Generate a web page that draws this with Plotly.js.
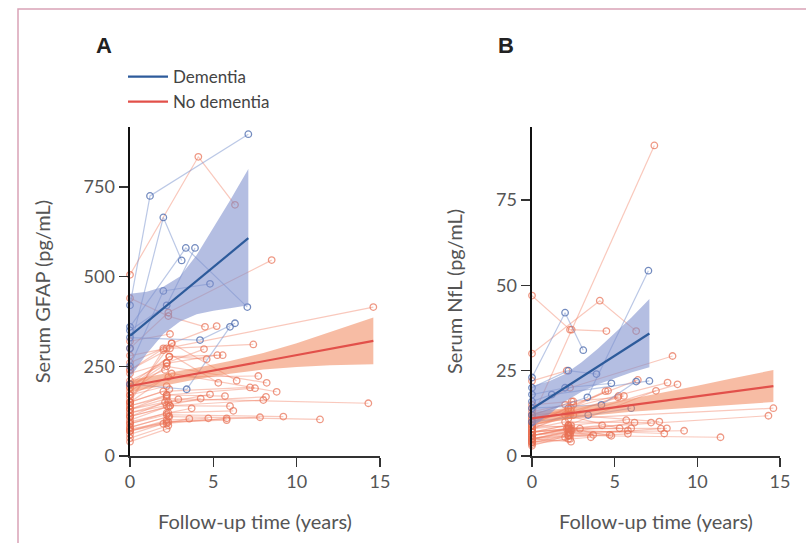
<!DOCTYPE html>
<html>
<head>
<meta charset="utf-8">
<script src="https://cdn.plot.ly/plotly-3.0.1.min.js"></script>
<style>html,body{margin:0;padding:0;background:#fff;}#chart{width:806px;height:543px;}</style>
</head>
<body>
<div id="chart"></div>
<script>
// ---------- Individual trajectories: no dementia ----------
const tRed = [
  [0, 4.1, 6.3], [0, 2.4, 7.4], [0, 2.3, 4.5], [0, 2.2, 14.6], [0, 2.2, 14.3],
  [0, 2.3, 11.4], [0, 2.2, 9.2], [0, 2.5, 8.8], [0, 2.3, 8.5], [0, 2.2, 8.2],
  [0, 2.1, 8.16], [0, 2.4, 8.0], [0, 2.2, 7.8], [0, 2.3, 7.7], [0, 2.2, 7.5],
  [0, 2.0, 7.2], [0, 2.5, 6.4], [0, 2.2, 6.2], [0, 2.4, 6.0], [0, 2.0, 5.8],
  [0, 2.3, 5.8], [0, 2.2, 5.7], [0, 2.36, 5.56], [0, 2.2, 5.24], [0, 2.0, 5.3],
  [0, 2.5, 5.2], [0, 2.3, 4.8], [0, 2.2, 4.7], [0, 2.36, 4.6], [0, 2.2, 4.44],
  [0, 2.2, 4.24], [0, 2.3, 3.7], [0, 2.2, 3.56], [0, 2.9], [0, 2.36],
  [0, 2.3], [0, 2.36], [0, 2.2], [0, 2.2], [0, 2.0],
  [0, 2.3], [0, 2.2], [0, 2.4], [0, 2.2], [0, 2.1]
];
const gfapRed = [
  [505, 834, 700], [240, 300, 311], [440, 390, 360], [280, 300, 415], [130, 160, 147],
  [80, 110, 102], [90, 115, 110], [150, 230, 179], [300, 400, 546], [180, 250, 204],
  [110, 150, 165], [100, 140, 156], [70, 95, 108], [170, 220, 223], [140, 170, 189],
  [150, 180, 191], [160, 314, 210], [90, 120, 126], [110, 140, 139], [60, 90, 105],
  [75, 95, 100], [130, 170, 167], [200, 277, 281], [190, 258, 281], [150, 295, 204],
  [240, 314, 362], [120, 150, 172], [70, 100, 105], [190, 277, 270], [210, 260, 298],
  [120, 140, 160], [95, 120, 133], [70, 90, 104], [130, 158], [150, 186],
  [110, 137], [80, 110], [170, 195], [230, 260], [260, 300],
  [50, 85], [40, 75], [320, 340], [140, 165], [200, 240]
];
const nflRed = [
  [30, 45.5, 36.6], [11, 37, 91], [47, 37, 36.6], [9, 11, 14.0], [7, 8, 11.8],
  [5, 6, 5.5], [6, 7, 7.4], [9, 12, 21.0], [14, 20, 29.3], [10, 14, 21.5],
  [6, 8, 8.1], [5, 7.5, 6.6], [4.5, 6, 8.0], [8, 12, 10.1], [7, 9, 19.1],
  [8, 10, 9.8], [9, 15, 22.3], [5, 7, 9.8], [6, 8, 8.1], [4, 5.5, 6.5],
  [5, 6.5, 7.5], [7, 9, 10.5], [10, 13, 17.6], [9, 12, 17.6], [8, 12, 8.1],
  [12, 16, 17.2], [6, 8, 5.9], [4, 6, 6.2], [10, 14, 19.1], [11, 14, 19.0],
  [6, 8, 9.0], [5, 7, 6.2], [4, 5, 5.5], [7, 8], [8, 9],
  [6, 7.6], [5, 4.2], [9, 8.5], [12, 13], [13, 15],
  [3.5, 5], [3, 6], [15, 16], [7, 8], [22, 25]
];
// ---------- Individual trajectories: dementia ----------
const tDem = [
  [0, 1.2, 7.1], [0, 2.0, 3.1], [0, 3.35, 7.04], [0, 2.0, 4.8],
  [0, 4.2, 6.3], [0, 3.4, 6.0], [0, 2.2, 3.9]
];
const gfapDem = [
  [420, 725, 897], [300, 665, 545], [360, 580, 415], [250, 460, 480],
  [330, 323, 370], [200, 186, 360], [350, 420, 580]
];
const nflDem = [
  [16, 18, 22], [23, 42, 31], [12, 17.2, 54.3], [18, 20, 21.3],
  [14, 15, 21.8], [10, 12, 14], [20, 25, 24]
];
// ---------- Model fits with confidence bands ----------
const demXA = [0, 1, 2, 3, 4, 5, 6, 7.1];
const demFitA = [335, 373, 412, 450, 488, 527, 565, 607];
const demUpA = [452, 458, 472, 500, 560, 635, 712, 800];
const demLoA = [218, 285, 340, 375, 395, 405, 412, 420];
const ndXA = [0, 2, 4, 6, 8, 10, 12, 14.6];
const ndFitA = [195, 212, 230, 247, 264, 281, 299, 321];
const ndUpA = [212, 228, 246, 265, 287, 314, 345, 386];
const ndLoA = [178, 196, 214, 229, 241, 248, 253, 256];

const demXB = [0, 1, 2, 3, 4, 5, 6, 7.1];
const demFitB = [13.8, 16.9, 20.0, 23.1, 26.2, 29.3, 32.4, 35.9];
const demUpB = [20.5, 21.8, 24.0, 27.5, 31.5, 36.0, 40.5, 46.0];
const demLoB = [8.5, 12.0, 16.0, 18.8, 21.0, 22.8, 24.5, 26.0];
const ndXB = [0, 2, 4, 6, 8, 10, 12, 14.6];
const ndFitB = [11.0, 12.3, 13.6, 14.9, 16.2, 17.5, 18.8, 20.5];
const ndUpB = [12.8, 13.9, 15.2, 16.8, 18.6, 20.6, 22.6, 25.2];
const ndLoB = [9.2, 10.7, 12.0, 13.0, 13.8, 14.4, 15.0, 15.8];

const xTicks = [0, 5, 10, 15];
const yTicksA = [0, 250, 500, 750];
const yTicksB = [0, 25, 50, 75];

// ---------- Styles ----------
const RED_LINE = 'rgba(240,125,95,0.42)';
const RED_MK = 'rgba(232,112,85,0.72)';
const BLUE_LINE = 'rgba(120,146,205,0.5)';
const BLUE_MK = 'rgba(80,110,175,0.8)';
const FONT = 'Lato, "Open Sans", sans-serif';

const traces = [];
function addSubjects(ts, vs, xa, ya, lineCol, mkCol) {
  ts.forEach((t, i) => {
    traces.push({
      type: 'scatter', mode: 'lines+markers', x: t, y: vs[i], xaxis: xa, yaxis: ya,
      line: {color: lineCol, width: 1.2},
      marker: {symbol: 'circle-open', size: 6.5, color: mkCol, line: {width: 1.3, color: mkCol}},
      cliponaxis: false, showlegend: false, hoverinfo: 'skip'
    });
  });
}
function addBand(x, up, lo, xa, ya, fill) {
  traces.push({
    type: 'scatter', mode: 'lines', x: x.concat(x.slice().reverse()),
    y: up.concat(lo.slice().reverse()), fill: 'toself', fillcolor: fill,
    line: {width: 0, color: 'rgba(0,0,0,0)'}, xaxis: xa, yaxis: ya,
    showlegend: false, hoverinfo: 'skip'
  });
}
function addFit(x, y, xa, ya, col, name, legend) {
  traces.push({
    type: 'scatter', mode: 'lines', x: x, y: y, xaxis: xa, yaxis: ya,
    line: {color: col, width: 2.2}, name: name, showlegend: legend
  });
}

addSubjects(tRed, gfapRed, 'x', 'y', RED_LINE, RED_MK);
addSubjects(tDem, gfapDem, 'x', 'y', BLUE_LINE, BLUE_MK);
addSubjects(tRed, nflRed, 'x2', 'y2', RED_LINE, RED_MK);
addSubjects(tDem, nflDem, 'x2', 'y2', BLUE_LINE, BLUE_MK);
addBand(ndXA, ndUpA, ndLoA, 'x', 'y', 'rgba(240,133,89,0.55)');
addBand(demXA, demUpA, demLoA, 'x', 'y', 'rgba(125,143,205,0.58)');
addBand(ndXB, ndUpB, ndLoB, 'x2', 'y2', 'rgba(240,133,89,0.55)');
addBand(demXB, demUpB, demLoB, 'x2', 'y2', 'rgba(125,143,205,0.58)');
addFit(demXA, demFitA, 'x', 'y', '#2d5b9b', 'Dementia', true);
addFit(ndXA, ndFitA, 'x', 'y', '#e2504a', 'No dementia', true);
addFit(demXB, demFitB, 'x2', 'y2', '#2d5b9b', 'Dementia', false);
addFit(ndXB, ndFitB, 'x2', 'y2', '#e2504a', 'No dementia', false);

const W = 806, H = 543;
const px = v => v / W, py = v => 1 - v / H;

function xAxis(dom, anchor) {
  return {
    domain: dom, range: [0, 15], anchor: anchor, tickvals: xTicks,
    ticks: 'outside', ticklen: 9, tickwidth: 1.5, tickcolor: '#333',
    showline: true, linecolor: '#333', linewidth: 1.5,
    showgrid: false, zeroline: false,
    tickfont: {family: FONT, size: 18, color: '#555'},
    title: {text: 'Follow-up time (years)', font: {family: FONT, size: 20, color: '#555'}, standoff: 24}
  };
}
function yAxis(range, ticks, title, anchor) {
  return {
    domain: [py(456), py(127)], range: range, anchor: anchor, tickvals: ticks,
    ticks: 'outside', ticklen: 9, tickwidth: 1.5, tickcolor: '#333',
    showline: true, linecolor: '#111', linewidth: 2.5,
    showgrid: false, zeroline: false,
    tickfont: {family: FONT, size: 18, color: '#555'},
    title: {text: title, font: {family: FONT, size: 20, color: '#555'}, standoff: 28}
  };
}

const layout = {
  width: W, height: H,
  margin: {l: 0, r: 0, t: 0, b: 0},
  paper_bgcolor: '#ffffff', plot_bgcolor: 'rgba(0,0,0,0)',
  font: {family: FONT, color: '#444'},
  xaxis: xAxis([px(130), px(380)], 'y'),
  yaxis: yAxis([0, 917], yTicksA, 'Serum GFAP (pg/mL)', 'x'),
  xaxis2: xAxis([px(532), px(780)], 'y2'),
  yaxis2: yAxis([0, 96.4], yTicksB, 'Serum NfL (pg/mL)', 'x2'),
  showlegend: true,
  legend: {
    x: px(123), y: py(59), xanchor: 'left', yanchor: 'top',
    bgcolor: 'rgba(0,0,0,0)', font: {family: FONT, size: 17, color: '#444'},
    tracegroupgap: 0, itemwidth: 40
  },
  annotations: [
    {text: '<b>A</b>', x: px(104), y: py(45), xref: 'paper', yref: 'paper', showarrow: false,
     xanchor: 'center', yanchor: 'middle',
     font: {family: 'Liberation Sans, Arial, sans-serif', size: 22, color: '#222'}},
    {text: '<b>B</b>', x: px(506), y: py(45), xref: 'paper', yref: 'paper', showarrow: false,
     xanchor: 'center', yanchor: 'middle',
     font: {family: 'Liberation Sans, Arial, sans-serif', size: 22, color: '#222'}}
  ],
  shapes: [
    {type: 'rect', xref: 'paper', yref: 'paper', x0: px(18), x1: 1.01, y0: -0.01, y1: py(9),
     line: {color: '#d9a3b7', width: 1.5}, fillcolor: 'rgba(0,0,0,0)'}
  ]
};

Plotly.newPlot('chart', traces, layout, {displayModeBar: false, staticPlot: true});
</script>
</body>
</html>
